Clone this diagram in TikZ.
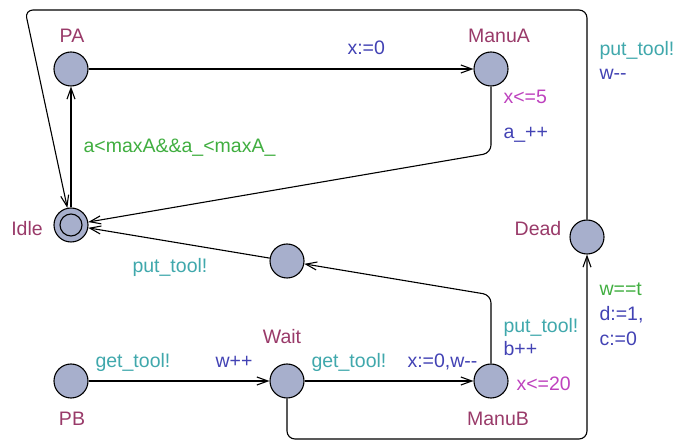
\documentclass[tikz,border=0pt]{standalone}
\usepackage{fontspec}
\setmainfont{Liberation Sans}
\usetikzlibrary{arrows.meta}

\definecolor{fondetat}{HTML}{A7AFCC}
\definecolor{nometat}{HTML}{993A69}
\definecolor{garde}{HTML}{40AE40}
\definecolor{synchro}{HTML}{40A8AC}
\definecolor{maj}{HTML}{4242B4}
\definecolor{invar}{HTML}{BE42BE}

\tikzset{
  etat/.style={circle, draw, fill=fondetat, minimum size=34pt, inner sep=0pt},
  txt/.style={inner sep=0pt, text height=15pt, text depth=1pt,
    font=\fontsize{19.5}{22}\selectfont},
  nom/.style={txt, text=nometat},
  gd/.style={txt, text=garde, anchor=west},
  sy/.style={txt, text=synchro, anchor=west},
  mj/.style={txt, text=maj, anchor=west},
  iv/.style={txt, text=invar, anchor=west},
}

\begin{document}
\begin{tikzpicture}[x=1pt, y=-1pt, line width=1.1pt,
    >={Straight Barb[length=11pt,width=8pt]}]
  \useasboundingbox (0,0) rectangle (675,443);

  % etats
  \node[etat] (pa) at (71,69) {};
  \node[etat] (manua) at (491,69) {};
  \node[etat] (idle) at (71,225) {};
  \draw (idle) circle (11pt);
  \node[etat] (dead) at (587,237) {};
  \node[etat] (retour) at (287,261) {};
  \node[etat] (pb) at (71,381) {};
  \node[etat] (wait) at (287,381) {};
  \node[etat] (manub) at (491,381) {};

  % noms des etats
  \node[nom] (nompa) at (72,36) {PA};
  \node[nom] (nommanua) at (499,36) {ManuA};
  \node[nom] (nomidle) at (27,229) {Idle};
  \node[nom] (nomdead) at (538,229) {Dead};
  \node[nom] (nomwait) at (282,337) {Wait};
  \node[nom] (nompb) at (72,419) {PB};
  \node[nom] (nommanub) at (498,419) {ManuB};

  % invariants
  \node[iv] (invmanua) at (503,97) {x<=5};
  \node[iv] (invmanub) at (516,384) {x<=20};

  % transitions
  \draw[->] (idle) -- (pa);
  \draw[->] (pa) -- (manua);
  \draw[->, rounded corners=8pt] (manua) -- (491,153) -- (idle);
  \draw[->] (retour) -- (idle);
  \draw[->, rounded corners=8pt] (manub) -- (491,295) -- (retour);
  \draw[->] (pb) -- (wait);
  \draw[->] (wait) -- (manub);
  \draw[->, rounded corners=8pt] (wait) -- (287,439) -- (587,439) -- (dead);
  \draw[->, rounded corners=8pt] (dead) -- (587,10) -- (25,10) -- (idle);

  % etiquettes
  \node[gd] (g1) at (83,146) {a<maxA\&\&a\_<maxA\_};
  \node[mj] (u1) at (347,48) {x:=0};
  \node[mj] (u2) at (503,132) {a\_++};
  \node[sy] (s1) at (599,49) {put\_tool!};
  \node[mj] (u3) at (599,73) {w-{}-};
  \node[sy] (s2) at (132,266) {put\_tool!};
  \node[sy] (s3) at (503,326) {put\_tool!};
  \node[mj] (u4) at (503,349) {b++};
  \node[sy] (s4) at (95,361) {get\_tool!};
  \node[mj] (u5) at (215,361) {w++};
  \node[sy] (s5) at (311,361) {get\_tool!};
  \node[mj] (u6) at (407,361) {x:=0,w-{}-};
  \node[gd] (g2) at (599,289) {w==t};
  \node[mj] (u7) at (599,314) {d:=1,};
  \node[mj] (u8) at (599,339) {c:=0};
\end{tikzpicture}
\end{document}
